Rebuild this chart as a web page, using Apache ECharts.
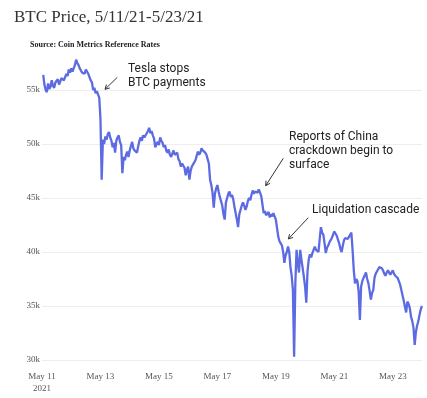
<!DOCTYPE html>
<html>
<head>
<meta charset="utf-8">
<script src="https://cdn.jsdelivr.net/npm/echarts@6/dist/echarts.min.js"></script>
<style>
  html, body { margin: 0; padding: 0; background: #fff; }
  #chart { width: 427px; height: 398px; }
</style>
</head>
<body>
<div id="chart"></div>
<script>
// hours since May 11 2021 00:00
const hours = [
  1, 2, 3, 4, 5, 6, 7, 8, 9, 10, 11, 12, 13, 14, 15, 16, 17, 18, 19, 20,
  21, 22, 23, 24, 25, 26, 27, 28, 29, 30, 31, 32, 33, 34, 35, 36, 37, 38, 39, 40,
  41, 42, 43, 44, 45, 46, 47, 48, 49, 50, 51, 52, 53, 54, 55, 56, 57, 58, 59, 60,
  61, 62, 63, 64, 65, 66, 67, 68, 69, 70, 71, 72, 73, 74, 75, 76, 77, 78, 79, 80,
  81, 82, 83, 84, 85, 86, 87, 88, 89, 90, 91, 92, 93, 94, 95, 96, 97, 98, 99, 100,
  101, 102, 103, 104, 105, 106, 107, 108, 109, 110, 111, 112, 113, 114, 115, 116, 117, 118, 119, 120,
  121, 122, 123, 124, 125, 126, 127, 128, 129, 130, 131, 132, 133, 134, 135, 136, 137, 138, 139, 140,
  141, 142, 143, 144, 145, 146, 147, 148, 149, 150, 151, 152, 153, 154, 155, 156, 157, 158, 159, 160,
  161, 162, 163, 164, 165, 166, 167, 168, 169, 170, 171, 172, 173, 174, 175, 176, 177, 178, 179, 180,
  181, 182, 183, 184, 185, 186, 187, 188, 189, 190, 191, 192, 193, 194, 195, 196, 197, 198, 199, 200,
  201, 202, 203, 204, 205, 206, 207, 208, 209, 210, 211, 212, 213, 214, 215, 216, 217, 218, 219, 220,
  221, 222, 223, 224, 225, 226, 227, 228, 229, 230, 231, 232, 233, 234, 235, 236, 237, 238, 239, 240,
  241, 242, 243, 244, 245, 246, 247, 248, 249, 250, 251, 252, 253, 254, 255, 256, 257, 258, 259, 260,
  261, 262, 263, 264, 265, 266, 267, 268, 269, 270, 271, 272, 273, 274, 275, 276, 277, 278, 279, 280,
  281, 282, 283, 284, 285, 286, 287, 288, 289, 290, 291, 292, 293, 294, 295, 296, 297, 298, 299, 300,
  301, 302, 303, 304, 305, 306, 307, 308, 309, 310, 311, 312
]

const prices = [
  56400, 55500, 55000, 54800, 55600, 55100, 55300, 55900, 55400, 55200, 55700, 55800, 56000, 55500, 55600, 56100, 56200, 55900, 56000, 56500,
  56300, 56900, 56600, 57000, 56700, 56800, 57300, 57800, 57500, 57300, 57000, 57100, 56600, 56700, 56500, 56900, 57000, 56500, 56200, 55900,
  55700, 55000, 55200, 54700, 54900, 54800, 54300, 52300, 46700, 50400, 50000, 50700, 50400, 50900, 51100, 50600, 50300, 49700, 50100, 49200,
  50300, 50600, 50800, 50200, 49900, 47300, 48800, 48500, 49000, 49300, 48800, 49400, 49800, 50200, 49600, 49400, 49500, 49200, 49800, 50300,
  50600, 50300, 50800, 50600, 50600, 51000, 51200, 51500, 51000, 51200, 50800, 50500, 49700, 50000, 50200, 49900, 50600, 50300, 50100, 49700,
  49900, 49400, 49200, 49500, 49000, 48800, 49100, 49400, 49000, 48900, 49200, 48600, 48400, 47900, 48200, 48300, 47800, 47100, 47600, 47900,
  46700, 47500, 47900, 48000, 48300, 48500, 48900, 49300, 49000, 49200, 49600, 49400, 49500, 49200, 49000, 48600, 48200, 46700, 46200, 45500,
  44100, 45400, 45900, 46200, 45600, 45100, 45000, 44300, 43500, 43000, 44600, 45000, 45400, 45600, 45100, 45300, 44900, 44200, 43600, 43000,
  42300, 43500, 43900, 44300, 44600, 44300, 43900, 44200, 44700, 45000, 44800, 45300, 45700, 45400, 45600, 45600, 45500, 45800, 45700, 45200,
  44400, 43600, 43800, 43400, 43300, 43700, 43200, 43500, 43300, 43600, 43300, 43000, 42200, 41400, 41000, 40800, 40600, 40000, 39000, 39700,
  40000, 40500, 40000, 38600, 37800, 36500, 30300, 37100, 40200, 39000, 38100, 40200, 39300, 38500, 37700, 36800, 35300, 38200, 39300, 39800,
  39500, 39900, 40200, 40500, 40200, 40300, 40000, 41200, 42300, 41800, 41600, 40800, 39900, 40400, 40600, 40900, 41100, 41300, 41400, 41900,
  42000, 41500, 41400, 40800, 40300, 40000, 40600, 41100, 41300, 41400, 41200, 41400, 41600, 41800, 40200, 38300, 37100, 37500, 37300, 36300,
  33700, 36800, 37300, 37600, 37700, 38100, 37500, 37100, 36400, 35600, 36200, 36500, 37600, 38000, 38200, 38400, 38600, 38700, 38500, 38300,
  38000, 37800, 38100, 38300, 38200, 37900, 38100, 38300, 38000, 37800, 37700, 37600, 37300, 37000, 36500, 36000, 35500, 34900, 34400, 35400,
  35200, 34800, 34000, 33600, 33000, 31400, 32600, 33200, 33600, 34200, 34700, 35000
]

const dayLabels = ['May 11', 'May 13', 'May 15', 'May 17', 'May 19', 'May 21', 'May 23']

const chart = echarts.init(document.getElementById('chart'))

// 箭头: 线段 + 两条短边
const arrow = (x1, y1, x2, y2) => {
  const a = Math.atan2(y1 - y2, x1 - x2)
  const len = 5
  const style = { stroke: '#333', lineWidth: 1 }
  return [
    { type: 'line', shape: { x1, y1, x2, y2 }, style },
    {
      type: 'polyline',
      shape: {
        points: [
          [x2 + len * Math.cos(a + 0.5), y2 + len * Math.sin(a + 0.5)],
          [x2, y2],
          [x2 + len * Math.cos(a - 0.5), y2 + len * Math.sin(a - 0.5)]
        ]
      },
      style
    }
  ]
}

const note = (x, y, text) => ({
  type: 'text',
  x,
  y,
  style: {
    text,
    fill: '#222',
    font: '12px Roboto, sans-serif',
    lineHeight: 14
  }
})

chart.setOption({
  animation: false,
  title: [
    {
      text: 'BTC Price, 5/11/21-5/23/21',
      left: 9,
      top: 4,
      textStyle: { fontFamily: 'Liberation Serif', fontSize: 17, fontWeight: 'normal', color: '#333' }
    },
    {
      text: 'Source: Coin Metrics Reference Rates',
      left: 25,
      top: 36,
      textStyle: { fontFamily: 'Liberation Serif', fontSize: 8, fontWeight: 'bold', color: '#222' }
    }
  ],
  grid: { left: 42, right: 5, top: 57.6, bottom: 38 },
  xAxis: {
    type: 'value',
    min: 0,
    max: 312,
    interval: 48,
    axisLine: { show: false },
    axisTick: { show: false },
    splitLine: { show: false },
    axisLabel: {
      showMaxLabel: false,
      margin: 11,
      fontFamily: 'Liberation Serif',
      fontSize: 9,
      color: '#555',
      lineHeight: 12,
      formatter: (v) => {
        const i = Math.round(v / 48)
        return i === 0 ? dayLabels[0] + '\n2021' : dayLabels[i]
      }
    }
  },
  yAxis: {
    type: 'value',
    min: 30000,
    max: 58000,
    interval: 5000,
    axisLine: { show: false },
    axisTick: { show: false },
    splitLine: { show: true, showMaxLine: false, lineStyle: { color: '#eeeeee', width: 1 } },
    axisLabel: {
      showMaxLabel: false,
      margin: 2,
      fontFamily: 'Liberation Serif',
      fontSize: 9,
      color: '#555',
      formatter: (v) => v / 1000 + 'k'
    }
  },
  series: [
    {
      type: 'line',
      data: hours.map((h, i) => [h, prices[i]]),
      showSymbol: false,
      lineStyle: { color: '#5d6be2', width: 2.3 },
      itemStyle: { color: '#5d6be2' }
    }
  ],
  graphic: [
    note(128, 62, 'Tesla stops\nBTC payments'),
    ...arrow(117.3, 77.3, 105, 89.3),
    note(289, 130, 'Reports of China\ncrackdown begin to\nsurface'),
    ...arrow(283.3, 158.3, 265.7, 185.7),
    note(312, 203, 'Liquidation cascade'),
    ...arrow(308.3, 217.7, 288.3, 239)
  ]
})
</script>
</body>
</html>
